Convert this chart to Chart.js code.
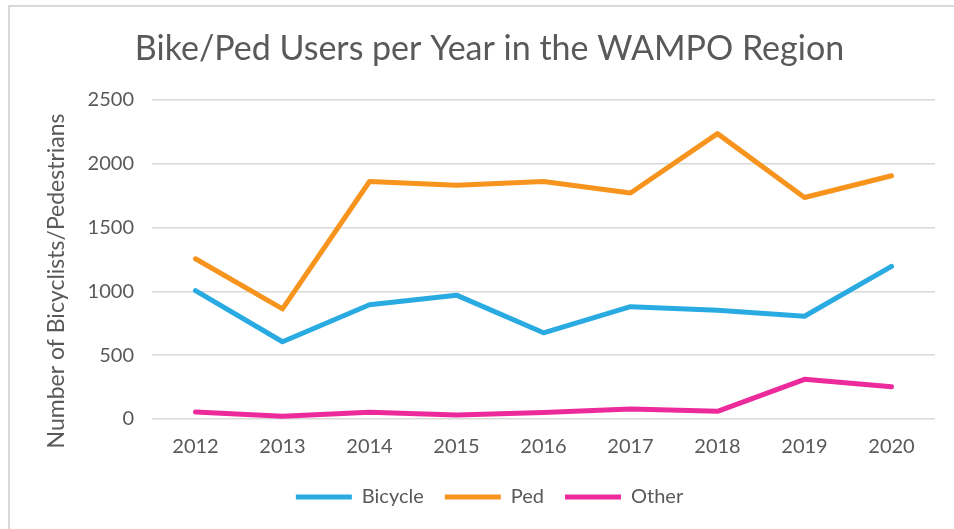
<!DOCTYPE html>
<html>
<head>
<meta charset="utf-8">
<script src="https://cdn.jsdelivr.net/npm/chart.js@4"></script>
<style>
  html, body { margin: 0; padding: 0; background: #fff; overflow: hidden; }
  #wrap { position: relative; width: 954px; height: 529px; }
  #frame { position: absolute; left: 8px; top: 5px; width: 2000px; height: 2000px;
           border-left: 2px solid #d9d9d9; border-top: 2px solid #d9d9d9; }
  canvas { position: absolute; left: 0; top: 0; }
</style>
</head>
<body>
<div id="wrap">
  <div id="frame"></div>
  <canvas id="c" width="954" height="529"></canvas>
</div>
<script>
const years = ['2012','2013','2014','2015','2016','2017','2018','2019','2020'];
const bicycle = [1005, 605, 895, 970, 675, 880, 852, 805, 1195];
const ped = [1255, 862, 1860, 1830, 1860, 1770, 2235, 1735, 1905];
const other = [55, 22, 52, 31, 50, 78, 60, 311, 253];
const seriesNames = ['Bicycle', 'Ped', 'Other'];
const seriesColors = ['#29ABE2', '#F7941D', '#EC2A9C'];
const yTitle = 'Number of Bicyclists/Pedestrians';

const FONT = 'Lato, "Open Sans", sans-serif';
const TEXT = '#595959';

const mk = (label, data, color) => ({
  label, data, borderColor: color, backgroundColor: color,
  borderWidth: 5, pointRadius: 0, pointHoverRadius: 0,
  borderCapStyle: 'round', borderJoinStyle: 'round', tension: 0, fill: false
});

// y-axis title centred on plot + category labels (as in the source chart)
const yTitlePlugin = {
  id: 'yTitle',
  afterDraw(chart) {
    const {ctx, chartArea} = chart;
    const xs = chart.scales.x;
    const cy = (chartArea.top + xs.bottom) / 2 - 2;
    ctx.save();
    ctx.translate(57, cy);
    ctx.rotate(-Math.PI / 2);
    ctx.fillStyle = TEXT;
    ctx.font = `23px ${FONT}`;
    ctx.textAlign = 'center';
    ctx.textBaseline = 'middle';
    ctx.fillText(yTitle, 0, 0);
    ctx.restore();
  }
};

new Chart(document.getElementById('c'), {
  type: 'line',
  data: {
    labels: years,
    datasets: [
      mk(seriesNames[0], bicycle, seriesColors[0]),
      mk(seriesNames[1], ped, seriesColors[1]),
      mk(seriesNames[2], other, seriesColors[2])
    ]
  },
  plugins: [yTitlePlugin],
  options: {
    responsive: false,
    animation: false,
    events: [],
    layout: { padding: { left: 44, right: 19, top: 29, bottom: 12 } },
    plugins: {
      title: {
        display: true,
        text: 'Bike/Ped Users per Year in the WAMPO Region',
        color: TEXT,
        font: { family: FONT, size: 34, weight: 'normal' },
        padding: { top: 0, bottom: 30 }
      },
      legend: {
        position: 'bottom',
        labels: {
          usePointStyle: true,
          pointStyle: 'line',
          pointStyleWidth: 56,
          color: TEXT,
          font: { family: FONT, size: 20 },
          padding: 21
        }
      },
      tooltip: { enabled: false }
    },
    scales: {
      x: {
        offset: true,
        grid: { display: false, drawTicks: false },
        border: { display: false },
        ticks: { color: TEXT, font: { family: FONT, size: 20 }, padding: 16, maxRotation: 0 },
        afterFit: s => { s.height = 47; }
      },
      y: {
        min: 0, max: 2500,
        ticks: { stepSize: 500, color: TEXT, font: { family: FONT, size: 20 }, padding: 18,
                 callback: v => String(v) },
        grid: { color: '#d9d9d9', lineWidth: 1.5, drawTicks: false },
        border: { display: false },
        title: { display: false },
        afterFit: s => { s.width = 108; }
      }
    }
  }
});
</script>
</body>
</html>
